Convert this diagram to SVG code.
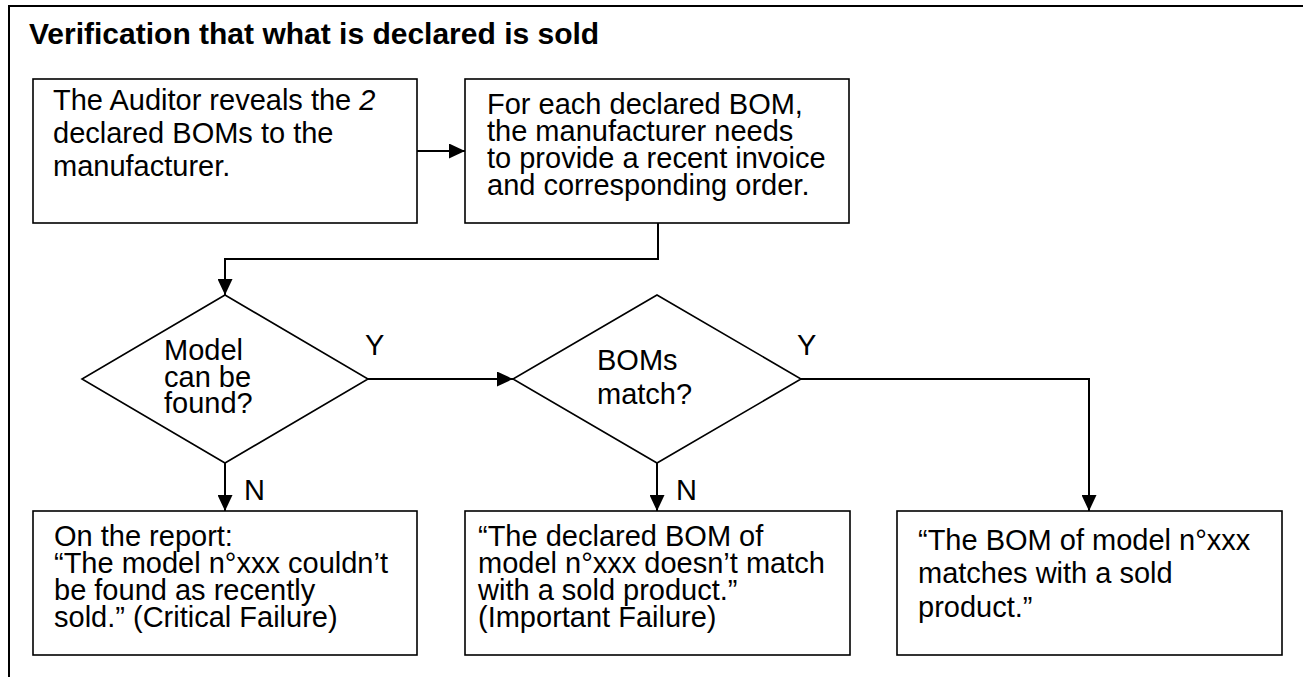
<svg xmlns="http://www.w3.org/2000/svg" width="1303" height="677" viewBox="0 0 1303 677">
<style>
.box{fill:#fff;stroke:#000;stroke-width:1.6}
.t{font-family:"Liberation Sans",Arial,sans-serif;font-size:29px;fill:#000}
.title{font-family:"Liberation Sans",Arial,sans-serif;font-size:30px;font-weight:bold;fill:#000}
.c{fill:none;stroke:#000;stroke-width:2}
</style>
<defs>
<marker id="ah" markerUnits="userSpaceOnUse" markerWidth="16" markerHeight="15" refX="16" refY="7.5" orient="auto">
<path d="M0,0 L16,7.5 L0,15 z" fill="#000"/>
</marker>
</defs>
<rect width="1303" height="677" fill="#fff"/>
<g id="frame">
<path d="M9,677 V6 H1303" fill="none" stroke="#000" stroke-width="2"/>
<text class="title" x="29" y="44">Verification that what is declared is sold</text>
</g>
<g id="connectors">
<line class="c" x1="417" y1="151" x2="465" y2="151" marker-end="url(#ah)"/>
<path class="c" d="M658,223 V259 H225 V295" marker-end="url(#ah)"/>
<line class="c" x1="368" y1="379" x2="513" y2="379" marker-end="url(#ah)"/>
<line class="c" x1="225" y1="463" x2="225" y2="511" marker-end="url(#ah)"/>
<line class="c" x1="657" y1="463" x2="657" y2="511" marker-end="url(#ah)"/>
<path class="c" d="M801,379 H1089 V511" marker-end="url(#ah)"/>
<text class="t" x="365" y="355">Y</text>
<text class="t" x="797" y="355">Y</text>
<text class="t" x="244" y="500">N</text>
<text class="t" x="676" y="500">N</text>
</g>
<g id="box1">
<rect class="box" x="33" y="79" width="384" height="144"/>
<text class="t" x="53" y="110">The Auditor reveals the <tspan font-style="italic">2</tspan></text>
<text class="t" x="53" y="143">declared BOMs to the</text>
<text class="t" x="53" y="176">manufacturer.</text>
</g>
<g id="box2">
<rect class="box" x="465" y="79" width="384" height="144"/>
<text class="t" x="487" y="114">For each declared BOM,</text>
<text class="t" x="487" y="141">the manufacturer needs</text>
<text class="t" x="487" y="168">to provide a recent invoice</text>
<text class="t" x="487" y="195">and corresponding order.</text>
</g>
<g id="decision1">
<polygon class="box" points="225,295 368,379 225,463 82,379"/>
<text class="t" x="164" y="360">Model</text>
<text class="t" x="164" y="387">can be</text>
<text class="t" x="164" y="413">found?</text>
</g>
<g id="decision2">
<polygon class="box" points="657,295 801,379 657,463 513,379"/>
<text class="t" x="597" y="370">BOMs</text>
<text class="t" x="597" y="404">match?</text>
</g>
<g id="box4">
<rect class="box" x="33" y="511" width="384" height="144"/>
<text class="t" x="54" y="546">On the report:</text>
<text class="t" x="54" y="573">“The model n°xxx couldn’t</text>
<text class="t" x="54" y="600">be found as recently</text>
<text class="t" x="54" y="627">sold.” (Critical Failure)</text>
</g>
<g id="box5">
<rect class="box" x="465" y="511" width="385" height="144"/>
<text class="t" x="478" y="546">“The declared BOM of</text>
<text class="t" x="478" y="573">model n°xxx doesn’t match</text>
<text class="t" x="478" y="600">with a sold product.”</text>
<text class="t" x="478" y="627">(Important Failure)</text>
</g>
<g id="box3">
<rect class="box" x="897" y="511" width="385" height="144"/>
<text class="t" x="918" y="550">“The BOM of model n°xxx</text>
<text class="t" x="918" y="583">matches with a sold</text>
<text class="t" x="918" y="617">product.”</text>
</g>
</svg>
